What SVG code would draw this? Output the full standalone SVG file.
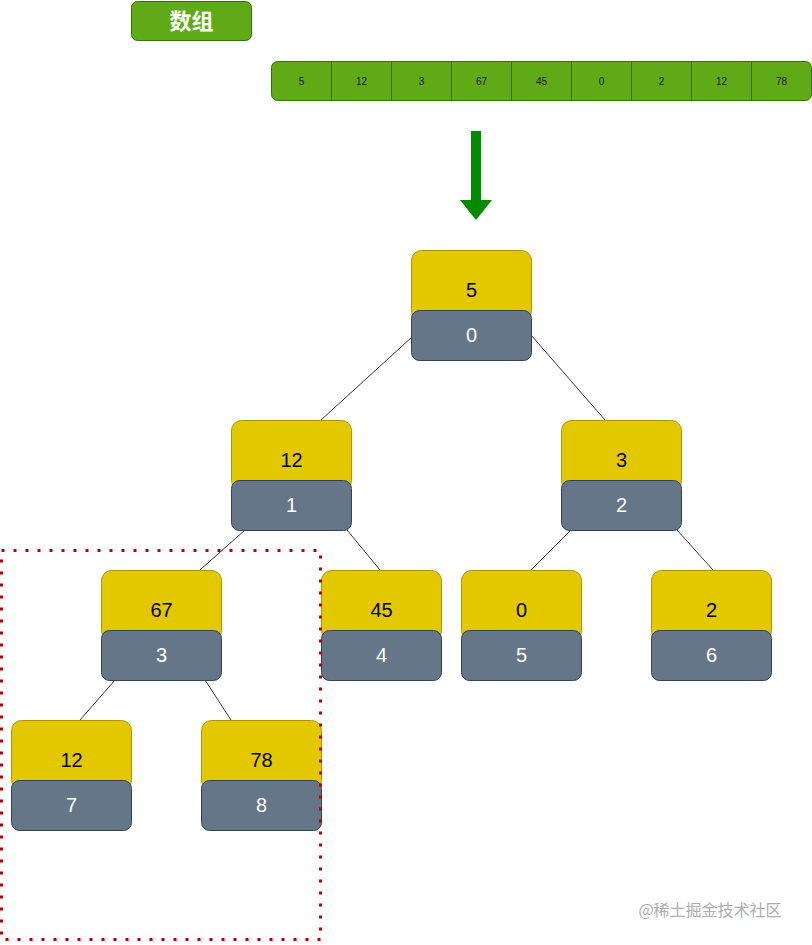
<svg xmlns="http://www.w3.org/2000/svg" width="812" height="945" viewBox="0 0 812 945">
<style>
.y{fill:#e3c800;stroke:#b09500;stroke-width:1}
.g{fill:#647687;stroke:#314354;stroke-width:1}
.tk{font-family:"Liberation Sans",Arial,sans-serif;font-size:20px;fill:#000;text-anchor:middle}
.tw{font-family:"Liberation Sans",Arial,sans-serif;font-size:20px;fill:#fff;text-anchor:middle}
.cell{font-family:"Liberation Sans",Arial,sans-serif;font-size:10px;fill:#1a1a1a;text-anchor:middle}
.e{stroke:#000;stroke-width:0.8;fill:none}
</style>
<rect width="812" height="945" fill="#fff"/>
<g id="title">
<rect x="131.5" y="1.5" width="120" height="39" rx="6" fill="#60a917" stroke="#2d7600"/>
<text x="191.5" y="29" font-family="'Noto Sans CJK SC',sans-serif" font-size="22" font-weight="bold" fill="#fff" text-anchor="middle">数组</text>
</g>
<g id="array">
<rect x="271.5" y="61.5" width="540" height="39" rx="6" fill="#60a917" stroke="#2d7600"/>
<g stroke="#2d7600">
<line x1="331.5" y1="61.5" x2="331.5" y2="100.5"/>
<line x1="391.5" y1="61.5" x2="391.5" y2="100.5"/>
<line x1="451.5" y1="61.5" x2="451.5" y2="100.5"/>
<line x1="511.5" y1="61.5" x2="511.5" y2="100.5"/>
<line x1="571.5" y1="61.5" x2="571.5" y2="100.5"/>
<line x1="631.5" y1="61.5" x2="631.5" y2="100.5"/>
<line x1="691.5" y1="61.5" x2="691.5" y2="100.5"/>
<line x1="751.5" y1="61.5" x2="751.5" y2="100.5"/>
</g>
<text class="cell" x="301.5" y="85">5</text>
<text class="cell" x="361.5" y="85">12</text>
<text class="cell" x="421.5" y="85">3</text>
<text class="cell" x="481.5" y="85">67</text>
<text class="cell" x="541.5" y="85">45</text>
<text class="cell" x="601.5" y="85">0</text>
<text class="cell" x="661.5" y="85">2</text>
<text class="cell" x="721.5" y="85">12</text>
<text class="cell" x="781.5" y="85">78</text>
</g>
<g id="arrow">
<polygon points="471,131 481,131 481,200 492,200 476,220 460,200 471,200" fill="#008a00"/>
</g>
<g id="edges">
<line class="e" x1="412" y1="337" x2="321" y2="420"/>
<line class="e" x1="531" y1="335" x2="605" y2="420"/>
<line class="e" x1="245" y1="530" x2="200" y2="570"/>
<line class="e" x1="347" y1="530" x2="380" y2="570"/>
<line class="e" x1="571" y1="530" x2="531" y2="570"/>
<line class="e" x1="677" y1="530" x2="713" y2="570"/>
<line class="e" x1="115" y1="680" x2="80" y2="720"/>
<line class="e" x1="205" y1="680" x2="231" y2="720"/>
</g>
<g id="n0"><rect class="y" x="411.5" y="250.5" width="120" height="70" rx="10"/><rect class="g" x="411.5" y="310.5" width="120" height="50" rx="8"/><text class="tk" x="471.5" y="297">5</text><text class="tw" x="471.5" y="342">0</text></g>
<g id="n1"><rect class="y" x="231.5" y="420.5" width="120" height="70" rx="10"/><rect class="g" x="231.5" y="480.5" width="120" height="50" rx="8"/><text class="tk" x="291.5" y="467">12</text><text class="tw" x="291.5" y="512">1</text></g>
<g id="n2"><rect class="y" x="561.5" y="420.5" width="120" height="70" rx="10"/><rect class="g" x="561.5" y="480.5" width="120" height="50" rx="8"/><text class="tk" x="621.5" y="467">3</text><text class="tw" x="621.5" y="512">2</text></g>
<g id="n3"><rect class="y" x="101.5" y="570.5" width="120" height="70" rx="10"/><rect class="g" x="101.5" y="630.5" width="120" height="50" rx="8"/><text class="tk" x="161.5" y="617">67</text><text class="tw" x="161.5" y="662">3</text></g>
<g id="n4"><rect class="y" x="321.5" y="570.5" width="120" height="70" rx="10"/><rect class="g" x="321.5" y="630.5" width="120" height="50" rx="8"/><text class="tk" x="381.5" y="617">45</text><text class="tw" x="381.5" y="662">4</text></g>
<g id="n5"><rect class="y" x="461.5" y="570.5" width="120" height="70" rx="10"/><rect class="g" x="461.5" y="630.5" width="120" height="50" rx="8"/><text class="tk" x="521.5" y="617">0</text><text class="tw" x="521.5" y="662">5</text></g>
<g id="n6"><rect class="y" x="651.5" y="570.5" width="120" height="70" rx="10"/><rect class="g" x="651.5" y="630.5" width="120" height="50" rx="8"/><text class="tk" x="711.5" y="617">2</text><text class="tw" x="711.5" y="662">6</text></g>
<g id="n7"><rect class="y" x="11.5" y="720.5" width="120" height="70" rx="10"/><rect class="g" x="11.5" y="780.5" width="120" height="50" rx="8"/><text class="tk" x="71.5" y="767">12</text><text class="tw" x="71.5" y="812">7</text></g>
<g id="n8"><rect class="y" x="201.5" y="720.5" width="120" height="70" rx="10"/><rect class="g" x="201.5" y="780.5" width="120" height="50" rx="8"/><text class="tk" x="261.5" y="767">78</text><text class="tw" x="261.5" y="812">8</text></g>
<g id="highlight">
<rect x="1.5" y="550.5" width="319" height="389" fill="none" stroke="#b20000" stroke-width="3" stroke-dasharray="3 9"/>
</g>
<text x="710" y="916" font-family="'Noto Sans CJK SC',sans-serif" font-size="16" fill="#9a9a9a" text-anchor="middle" opacity="0.8">@稀土掘金技术社区</text>
</svg>
